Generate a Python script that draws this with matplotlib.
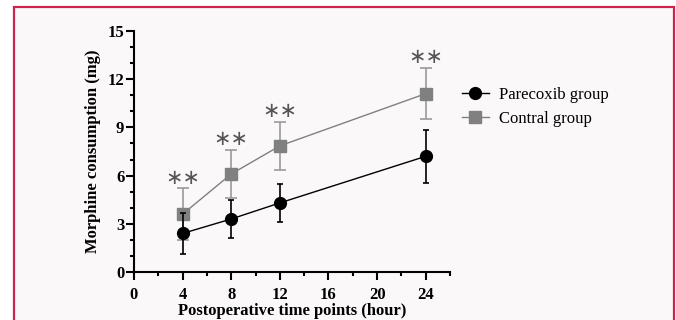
import matplotlib.pyplot as plt
from matplotlib.patches import Rectangle
from matplotlib.lines import Line2D

plt.rcParams['font.family'] = ['Liberation Serif', 'DejaVu Serif']

hours = [4, 8, 12, 24]
parecoxib_mean = [2.4, 3.3, 4.3, 7.2]
parecoxib_sd = [1.25, 1.2, 1.2, 1.65]
control_mean = [3.6, 6.1, 7.85, 11.1]
control_sd = [1.6, 1.5, 1.5, 1.6]
x_ticks = [0, 4, 8, 12, 16, 20, 24]
y_ticks = [0, 3, 6, 9, 12, 15]

fig = plt.figure(figsize=(6.76, 3.2), dpi=100)
fig.patch.set_facecolor('white')
frame = Rectangle((14 / 676, -0.05), 660 / 676, 1 - 7 / 320 + 0.05,
                  transform=fig.transFigure, facecolor='#fbf8f9',
                  edgecolor='#c8254f', linewidth=1.6, zorder=-10)
fig.patches.append(frame)

ax = fig.add_axes([134 / 676, 1 - 272 / 320, (450 - 134) / 676, (272 - 31) / 320])
ax.patch.set_alpha(0)

ax.errorbar(hours, control_mean, yerr=control_sd, color='#808080', ecolor='#9a9a9a',
            marker='s', markersize=8, linewidth=1, elinewidth=1.2, capsize=4,
            capthick=1.2, zorder=2)
ax.errorbar(hours, parecoxib_mean, yerr=parecoxib_sd, color='black', ecolor='black',
            marker='o', markersize=8.5, linewidth=1, elinewidth=1.2, capsize=2,
            capthick=1.2, zorder=3)

for h, m, s in zip(hours, control_mean, control_sd):
    ax.text(h, m + s + 0.05, '\u2217\u2217', ha='center', va='bottom', fontsize=15,
            color='#555555', family=['DejaVu Sans'])

ax.set_xlim(0, 26)
ax.set_ylim(0, 15)
ax.set_xticks(x_ticks)
ax.set_yticks(y_ticks)
ax.set_xticks(range(0, 27, 2), minor=True)
ax.set_yticks(range(0, 16, 1), minor=True)
ax.tick_params(which='major', direction='out', length=6, width=1.5, labelsize=12)
ax.tick_params(which='minor', direction='out', length=3, width=1.5)
for lab in ax.get_xticklabels() + ax.get_yticklabels():
    lab.set_fontweight('bold')
ax.tick_params(axis='y', pad=1)
ax.tick_params(axis='x', pad=5)

for side in ['top', 'right']:
    ax.spines[side].set_visible(False)
for side in ['left', 'bottom']:
    ax.spines[side].set_linewidth(1.5)

ax.set_xlabel('Postoperative time points (hour)', fontsize=12, fontweight='bold', labelpad=0)
ax.set_ylabel('Morphine consumption (mg)', fontsize=12, fontweight='bold', labelpad=5)

handles = [
    Line2D([], [], color='black', marker='o', markersize=8.5, linewidth=1),
    Line2D([], [], color='#808080', marker='s', markersize=8, linewidth=1),
]
labels = ['Parecoxib group', 'Contral group']
fig.legend(handles, labels, loc='upper left',
           bbox_to_anchor=(447 / 676, 1 - 72 / 320), frameon=False,
           fontsize=12, handlelength=1.6, handletextpad=0.6, labelspacing=0.5)

fig.savefig('out.png', dpi=100)
